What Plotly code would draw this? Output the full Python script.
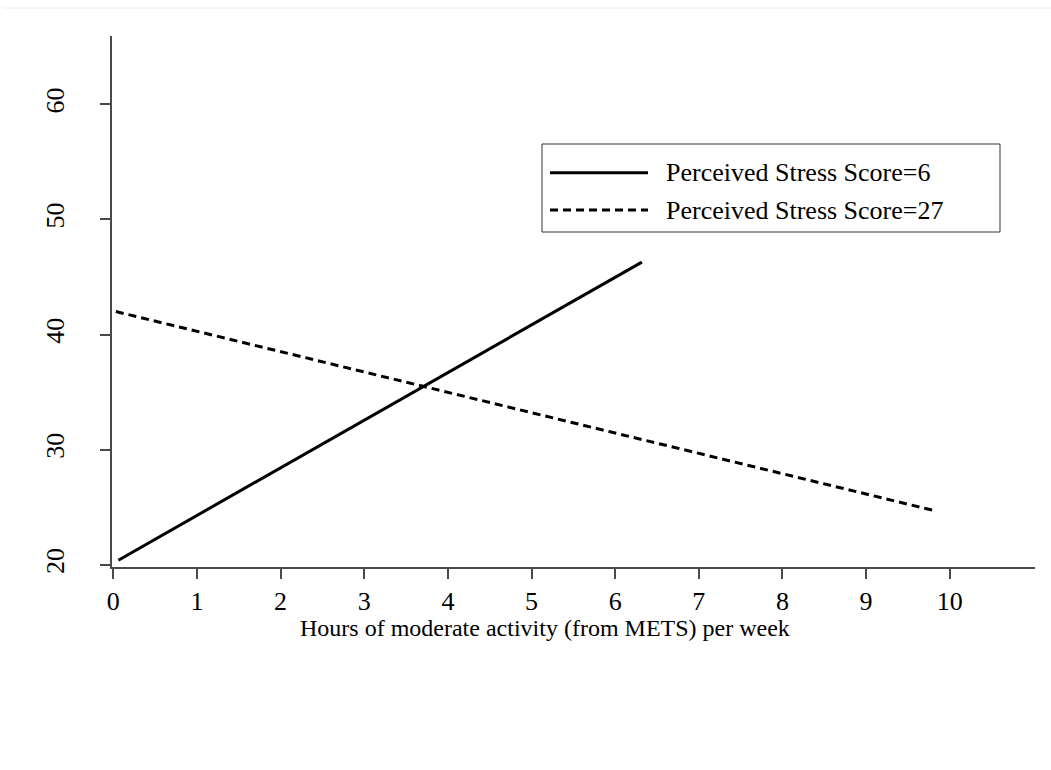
import plotly.graph_objects as go

# Data
hours_pss6 = [0.06, 6.32]
pred_pss6 = [20.4, 46.3]
hours_pss27 = [0.03, 9.82]
pred_pss27 = [42.0, 24.7]
series_names = ["Perceived Stress Score=6", "Perceived Stress Score=27"]
x_ticks = list(range(0, 11))
y_ticks = [20, 30, 40, 50, 60]
x_title = "Hours of moderate activity (from METS) per week"

W, H = 1051, 770
L, R, T, B = 112, 1035, 36, 567
FONT = "Liberation Serif, Times New Roman, serif"
AX = "#4a4a4a"


def px(x):
    return (x - L) / (R - L)


def py(y):
    return (B - y) / (B - T)


fig = go.Figure()
fig.add_trace(go.Scatter(x=hours_pss6, y=pred_pss6, mode="lines",
                         line=dict(color="black", width=3), name=series_names[0],
                         showlegend=False))
fig.add_trace(go.Scatter(x=hours_pss27, y=pred_pss27, mode="lines",
                         line=dict(color="black", width=3, dash="8px,5px"),
                         name=series_names[1], showlegend=False))

shapes = []
annotations = []
# faint outer border line at top
shapes.append(dict(type="line", xref="paper", yref="paper", x0=px(3), x1=px(1051),
                   y0=py(8), y1=py(8), line=dict(color="#eeeeee", width=1)))
# legend box
shapes.append(dict(type="rect", xref="paper", yref="paper", x0=px(542), x1=px(1000),
                   y0=py(232), y1=py(144), line=dict(color="#333333", width=1),
                   fillcolor="white", layer="above"))
rows = [172.7, 210]
dashes = ["solid", "8px,5px"]
for name, ry, d in zip(series_names, rows, dashes):
    shapes.append(dict(type="line", xref="paper", yref="paper", x0=px(550), x1=px(648),
                       y0=py(ry), y1=py(ry), line=dict(color="black", width=3, dash=d),
                       layer="above"))
    annotations.append(dict(text=name, xref="paper", yref="paper", x=px(664), y=py(ry),
                            xanchor="left", yanchor="middle", showarrow=False,
                            font=dict(family=FONT, size=26, color="black")))
# x-axis title
annotations.append(dict(text=x_title, xref="paper", yref="paper", x=px(545), y=py(628),
                        xanchor="center", yanchor="middle", showarrow=False,
                        font=dict(family=FONT, size=24, color="black")))

fig.update_layout(
    width=W, height=H,
    margin=dict(l=L, r=W - R, t=T, b=H - B, pad=0),
    paper_bgcolor="white", plot_bgcolor="white",
    font=dict(family=FONT, size=26, color="black"),
    shapes=shapes, annotations=annotations,
    showlegend=False,
)
fig.update_xaxes(range=[-0.016, 11.02], tickvals=x_ticks, ticks="outside", ticklen=10,
                 tickwidth=1.5, tickcolor=AX, showline=True, linecolor=AX, linewidth=1.5,
                 showgrid=False, zeroline=False, ticklabelstandoff=0,
                 tickfont=dict(family=FONT, size=26, color="black"))
fig.update_yaxes(range=[19.81, 65.94], tickvals=y_ticks, ticks="outside", ticklen=10,
                 tickwidth=1.5, tickcolor=AX, showline=True, linecolor=AX, linewidth=1.5,
                 showgrid=False, zeroline=False, tickangle=-90, ticklabelstandoff=26,
                 tickfont=dict(family=FONT, size=26, color="black"))

fig.write_html("out.html")
